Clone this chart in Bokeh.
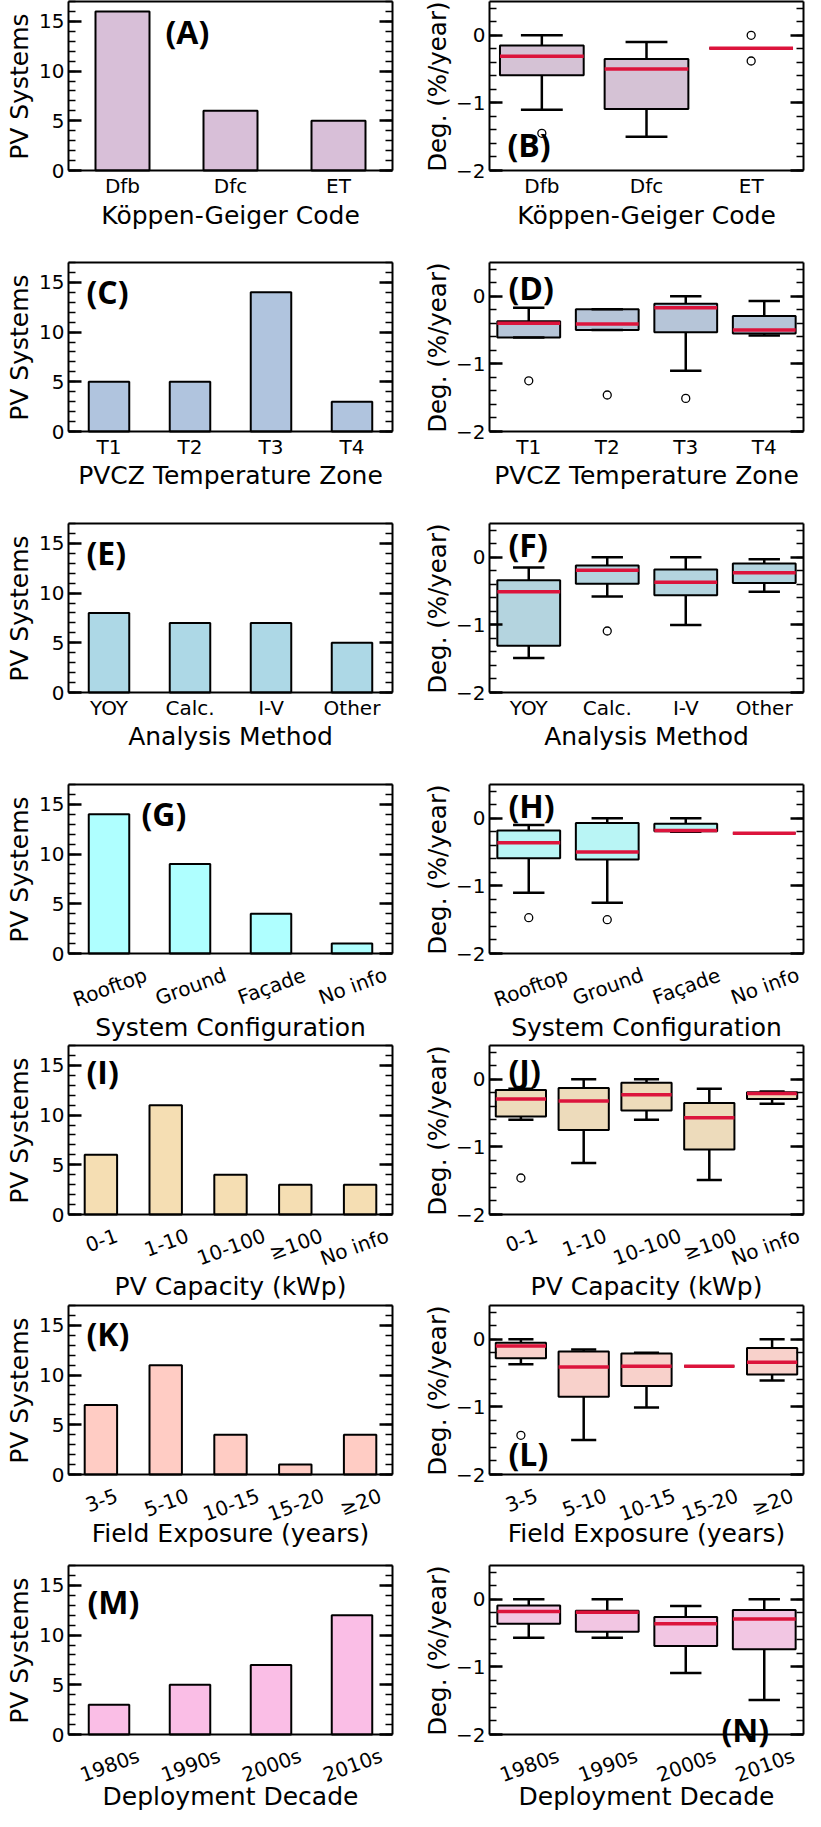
import math
from bokeh.plotting import figure
from bokeh.layouts import column, row
from bokeh.models import Range1d, SingleIntervalTicker, FixedTicker, LinearAxis, Label, Span
from bokeh.core.properties import value
from bokeh.embed import file_html
from bokeh.resources import INLINE

# ---------------- data ----------------
koppen_codes = ["Dfb", "Dfc", "ET"]
koppen_counts = [16, 6, 5]
koppen_low = [-1.10, -1.50, -0.19]
koppen_q1 = [-0.59, -1.09, -0.19]
koppen_med = [-0.31, -0.50, -0.19]
koppen_q3 = [-0.15, -0.35, -0.19]
koppen_high = [0.00, -0.10, -0.19]
koppen_out_cat = ["Dfb", "ET", "ET"]
koppen_out_val = [-1.45, 0.00, -0.38]

temp_zones = ["T1", "T2", "T3", "T4"]
temp_counts = [5, 5, 14, 3]
temp_low = [-0.61, -0.50, -1.10, -0.58]
temp_q1 = [-0.61, -0.50, -0.53, -0.55]
temp_med = [-0.40, -0.41, -0.17, -0.50]
temp_q3 = [-0.37, -0.19, -0.11, -0.29]
temp_high = [-0.17, -0.19, 0.00, -0.07]
temp_out_cat = ["T1", "T2", "T3"]
temp_out_val = [-1.25, -1.46, -1.51]

method_names = ["YOY", "Calc.", "I-V", "Other"]
method_counts = [8, 7, 7, 5]
method_low = [-1.49, -0.58, -1.00, -0.51]
method_q1 = [-1.31, -0.39, -0.56, -0.38]
method_med = [-0.51, -0.19, -0.37, -0.23]
method_q3 = [-0.34, -0.12, -0.18, -0.09]
method_high = [-0.15, 0.00, 0.00, -0.03]
method_out_cat = ["Calc."]
method_out_val = [-1.09]

config_names = ["Rooftop", "Ground", "Façade", "No info"]
config_counts = [14, 9, 4, 1]
config_low = [-1.10, -1.25, -0.20, -0.22]
config_q1 = [-0.59, -0.61, -0.19, -0.22]
config_med = [-0.36, -0.50, -0.18, -0.22]
config_q3 = [-0.18, -0.07, -0.08, -0.22]
config_high = [-0.10, 0.00, 0.00, -0.22]
config_out_cat = ["Rooftop", "Ground"]
config_out_val = [-1.47, -1.50]

capacity_bins = ["0-1", "1-10", "10-100", "≥100", "No info"]
capacity_counts = [6, 11, 4, 3, 3]
capacity_low = [-0.60, -1.24, -0.60, -1.49, -0.36]
capacity_q1 = [-0.55, -0.75, -0.46, -1.04, -0.29]
capacity_med = [-0.29, -0.32, -0.23, -0.57, -0.21]
capacity_q3 = [-0.16, -0.13, -0.05, -0.35, -0.19]
capacity_high = [-0.14, 0.00, 0.00, -0.14, -0.18]
capacity_out_cat = ["0-1"]
capacity_out_val = [-1.46]

exposure_bins = ["3-5", "5-10", "10-15", "15-20", "≥20"]
exposure_counts = [7, 11, 4, 1, 4]
exposure_low = [-0.37, -1.49, -1.01, -0.40, -0.61]
exposure_q1 = [-0.28, -0.85, -0.69, -0.40, -0.52]
exposure_med = [-0.10, -0.41, -0.40, -0.40, -0.34]
exposure_q3 = [-0.05, -0.18, -0.21, -0.40, -0.13]
exposure_high = [0.00, -0.15, -0.20, -0.40, 0.00]
exposure_out_cat = ["3-5"]
exposure_out_val = [-1.42]

decades = ["1980s", "1990s", "2000s", "2010s"]
decade_counts = [3, 5, 7, 12]
decade_low = [-0.57, -0.57, -1.09, -1.49]
decade_q1 = [-0.36, -0.48, -0.69, -0.74]
decade_med = [-0.18, -0.19, -0.36, -0.29]
decade_q3 = [-0.09, -0.17, -0.26, -0.16]
decade_high = [0.00, 0.00, -0.10, 0.00]
decade_out_cat = []
decade_out_val = []

x_titles = ["Köppen-Geiger Code", "PVCZ Temperature Zone", "Analysis Method",
            "System Configuration", "PV Capacity (kWp)", "Field Exposure (years)",
            "Deployment Decade"]
panel_letters = ["(A)", "(B)", "(C)", "(D)", "(E)", "(F)", "(G)", "(H)", "(I)", "(J)",
                 "(K)", "(L)", "(M)", "(N)"]
bar_ylabel = "PV Systems"
box_ylabel = "Deg. (%/year)"
bar_ylim = (0, 17)
box_ylim = (-2, 0.5)

# ---------------- styling / layout ----------------
FONT = "DejaVu Sans"
LETTER_FONT = "Open Sans"
BOX_H = 169           # visible axes box height
TOP = 1               # space above the box
ROW_H = [261, 261, 261, 261, 260, 260, 247]
TL, TR = 36, 50       # width of the y-title strips
L_MW, R_MW = 366, 353 # widths of the main figures
L_BL, R_BL = 32, 37
L_BR, R_BR = 10, 2
ROT = math.radians(20)
ROT_SHIFT = 2         # px nudge of rotated tick labels along their downward normal
STRIP_SHIFT = 8       # px nudge of the vertical y titles

bar_colors = ["#D8BFD8", "#B0C4DE", "#ADD8E6", "#AFFFFF", "#F5DEB3", "#FFCCC4", "#FABEE6"]
box_colors = ["#D5C2D5", "#B6C5D8", "#B4D4DF", "#B9F5F5", "#EDDBBB", "#F8D1CB", "#F2C6E3"]
rotated = [False, False, False, True, True, True, True]
title_offsets = [44.5, 44, 44, 74, 72, 59, 62]   # px below the box (text middle)
TICK_OFF = 15.5                                  # px below the box for flat tick labels
# letter positions: (dx from box left, dy from box bottom) in px
letter_pos = [(97, 139), (18, 26), (18, 140), (19, 144), (18, 140), (19, 148),
              (73, 140), (19, 148), (18, 143), (19, 144), (18, 141), (19, 21),
              (19, 133), (232, 5)]

CHAR_W = {"0": .636, "1": .636, "2": .636, "3": .636, "4": .636, "5": .636, "6": .636,
          "7": .636, "8": .636, "9": .636, "-": .361, "≥": .838, " ": .318, "N": .748,
          "o": .612, "i": .278, "n": .634, "f": .352, "R": .695, "t": .392, "p": .635,
          "G": .775, "r": .411, "u": .634, "d": .635, "F": .575, "a": .613, "ç": .550,
          "e": .615, "s": .521}


def text_w(s, size):
    return sum(CHAR_W.get(c, 0.6) for c in s) * size


def bare(p):
    p.outline_line_color = None
    p.background_fill_color = "white"
    p.border_fill_color = "white"
    p.grid.visible = False


def ytitle_strip(text, width, rh, cx, size):
    p = figure(width=width, height=rh, min_border_left=0, min_border_right=0,
               min_border_top=0, min_border_bottom=0,
               x_range=Range1d(0, width), y_range=Range1d(0, rh),
               x_axis_location=None, y_axis_location=None,
               output_backend="svg", toolbar_location=None)
    bare(p)
    p.text(x=[cx], y=[rh - TOP - BOX_H / 2], text=[text], angle=math.pi / 2,
           text_align="center", text_baseline="middle", text_font=value(FONT),
           text_font_size=size, text_color="black")
    return p


def main_fig(n, width, rh, bl, br, ylim, interval, overrides):
    y_lo, y_hi = ylim
    F = rh - TOP
    upp = (y_hi - y_lo) / BOX_H
    p = figure(width=width, height=rh, min_border_left=bl, min_border_right=br,
               min_border_top=TOP, min_border_bottom=0,
               x_range=Range1d(-0.5, n - 0.5), y_range=Range1d(y_hi - F * upp, y_hi),
               x_axis_location=None, y_axis_location=None,
               output_backend="svg", toolbar_location=None)
    bare(p)
    ticker = SingleIntervalTicker(interval=interval, num_minor_ticks=5)
    tick_kw = dict(major_tick_in=13, major_tick_out=0, major_tick_line_width=2.5,
                   major_tick_line_color="black", minor_tick_in=7, minor_tick_out=0,
                   minor_tick_line_width=1.5, minor_tick_line_color="black",
                   axis_line_color="black", axis_line_width=2)
    left = LinearAxis(ticker=ticker, bounds=(y_lo, y_hi), major_label_text_font=FONT,
                      major_label_text_font_size="20px", major_label_text_color="black",
                      major_label_standoff=4, **tick_kw)
    if overrides:
        left.major_label_overrides = overrides
    p.add_layout(left, "left")
    right = LinearAxis(ticker=ticker, bounds=(y_lo, y_hi), major_label_text_font_size="0px",
                       major_label_text_color=None, major_label_standoff=0, **tick_kw)
    p.add_layout(right, "right")
    top = LinearAxis(ticker=FixedTicker(ticks=[]), major_label_text_font_size="0px",
                     major_label_text_color=None, major_label_standoff=0,
                     major_tick_in=0, major_tick_out=0, minor_tick_in=0, minor_tick_out=0,
                     axis_line_color="black", axis_line_width=2)
    p.add_layout(top, "above")
    p.add_layout(Span(location=y_lo, dimension="width", line_color="black", line_width=2))
    return p, upp


def add_xtexts(p, cats, title, title_off, is_rot, y_lo, upp, fw):
    n = len(cats)
    ppu = fw / n
    xs = list(range(n))
    if is_rot:
        ys, xc = [], []
        for i, c in enumerate(cats):
            w = text_w(c, 20)
            ys.append(y_lo - (18.4 + ROT_SHIFT * math.cos(ROT) + w * math.sin(ROT) / 2) * upp)
            hw = (w * math.cos(ROT) + 23 * math.sin(ROT)) / 2 / ppu + 0.01
            xi = i + ROT_SHIFT * math.sin(ROT) / ppu
            xc.append(min(max(xi, -0.5 + hw), n - 0.5 - hw))
        p.text(x=xc, y=ys, text=cats, angle=ROT, text_align="center",
               text_baseline="middle", text_font=value(FONT), text_font_size="20px",
               text_color="black")
    else:
        p.text(x=xs, y=[y_lo - TICK_OFF * upp] * n, text=cats, text_align="center",
               text_baseline="middle", text_font=value(FONT), text_font_size="20px",
               text_color="black")
    p.text(x=[(n - 1) / 2], y=[y_lo - title_off * upp], text=[title], text_align="center",
           text_baseline="middle", text_font=value(FONT), text_font_size="25px",
           text_color="black")


def add_letter(p, k, rh):
    dx, dy = letter_pos[k]
    p.add_layout(Label(x=dx, y=(rh - TOP - BOX_H) + dy, x_units="screen", y_units="screen",
                       text=panel_letters[k], text_align="left", text_baseline="middle",
                       text_font=LETTER_FONT, text_font_style="bold", text_font_size="32px",
                       text_color="black"))


def draw_bars(p, cats, counts, color):
    xs = list(range(len(cats)))
    p.vbar(x=xs, top=counts, bottom=0, width=0.5, fill_color=color,
           line_color="black", line_width=2)


def draw_boxes(p, cats, low, q1, med, q3, high, out_cat, out_val, color):
    xs = list(range(len(cats)))
    p.quad(left=[x - 0.4 for x in xs], right=[x + 0.4 for x in xs], bottom=q1, top=q3,
           fill_color=color, line_color="black", line_width=2)
    p.segment(x0=xs, y0=q3, x1=xs, y1=high, line_color="black", line_width=2.5)
    p.segment(x0=xs, y0=q1, x1=xs, y1=low, line_color="black", line_width=2.5)
    p.segment(x0=[x - 0.2 for x in xs], y0=high, x1=[x + 0.2 for x in xs], y1=high,
              line_color="black", line_width=2.5)
    p.segment(x0=[x - 0.2 for x in xs], y0=low, x1=[x + 0.2 for x in xs], y1=low,
              line_color="black", line_width=2.5)
    p.segment(x0=[x - 0.4 for x in xs], y0=med, x1=[x + 0.4 for x in xs], y1=med,
              line_color="#DC143C", line_width=3.5)
    if out_cat:
        ox = [cats.index(c) for c in out_cat]
        p.scatter(x=ox, y=out_val, marker="circle", size=8, fill_color=None,
                  line_color="black", line_width=1.3)


datasets = [
    (koppen_codes, koppen_counts, koppen_low, koppen_q1, koppen_med, koppen_q3, koppen_high, koppen_out_cat, koppen_out_val),
    (temp_zones, temp_counts, temp_low, temp_q1, temp_med, temp_q3, temp_high, temp_out_cat, temp_out_val),
    (method_names, method_counts, method_low, method_q1, method_med, method_q3, method_high, method_out_cat, method_out_val),
    (config_names, config_counts, config_low, config_q1, config_med, config_q3, config_high, config_out_cat, config_out_val),
    (capacity_bins, capacity_counts, capacity_low, capacity_q1, capacity_med, capacity_q3, capacity_high, capacity_out_cat, capacity_out_val),
    (exposure_bins, exposure_counts, exposure_low, exposure_q1, exposure_med, exposure_q3, exposure_high, exposure_out_cat, exposure_out_val),
    (decades, decade_counts, decade_low, decade_q1, decade_med, decade_q3, decade_high, decade_out_cat, decade_out_val),
]

rows = []
for r, (cats, counts, low, q1, med, q3, high, oc, ov) in enumerate(datasets):
    rh = ROW_H[r]

    yl = ytitle_strip(bar_ylabel, TL, rh, 10.5 + STRIP_SHIFT, "25px")
    pl, upp_l = main_fig(len(cats), L_MW, rh, L_BL, L_BR, bar_ylim, 5, None)
    draw_bars(pl, cats, counts, bar_colors[r])
    add_xtexts(pl, cats, x_titles[r], title_offsets[r], rotated[r], bar_ylim[0], upp_l,
               L_MW - L_BL - L_BR)
    add_letter(pl, 2 * r, rh)

    yr = ytitle_strip(box_ylabel, TR, rh, 27 + STRIP_SHIFT, "24.5px")
    pr, upp_r = main_fig(len(cats), R_MW, rh, R_BL, R_BR, box_ylim, 1,
                         {0: "0", -1: "\u22121", -2: "\u22122"})
    draw_boxes(pr, cats, low, q1, med, q3, high, oc, ov, box_colors[r])
    add_xtexts(pr, cats, x_titles[r], title_offsets[r], rotated[r], box_ylim[0], upp_r,
               R_MW - R_BL - R_BR)
    add_letter(pr, 2 * r + 1, rh)

    rows.append(row(yl, pl, yr, pr))

layout = column(*rows)
open("out.html", "w").write(file_html(layout, INLINE))
